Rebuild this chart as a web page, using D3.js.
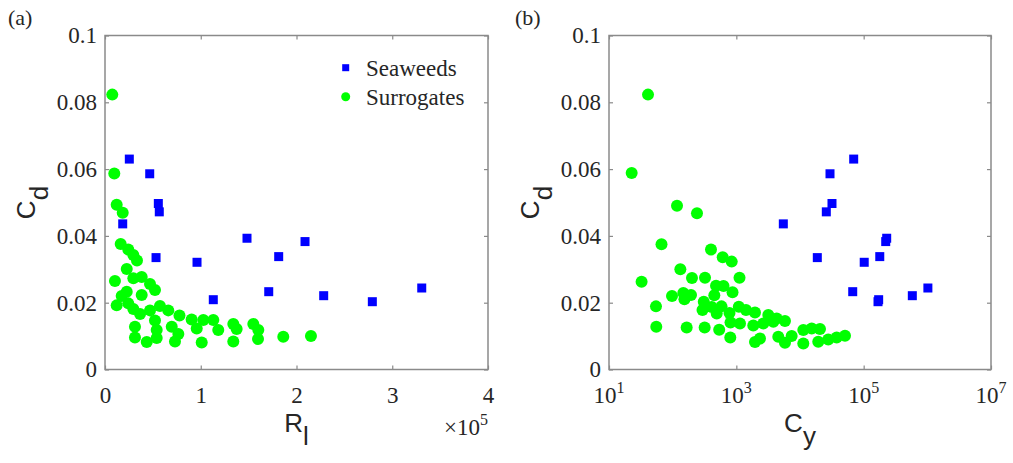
<!DOCTYPE html>
<html>
<head>
<meta charset="utf-8">
<script src="https://cdn.jsdelivr.net/npm/d3@7"></script>
<style>
  body { margin: 0; background: #fff; }
</style>
</head>
<body>
<svg id="fig" width="1013" height="463"></svg>
<script>
// ---- Drag coefficient data ----
// Seaweed specimens: Cd with the matching Reynolds number Rl and Cauchy number Cy
const seaweedCd = [0.0630, 0.0586, 0.0497, 0.0472, 0.0436, 0.0393, 0.0383, 0.0335,
                   0.0338, 0.0321, 0.0233, 0.0209, 0.0203, 0.0221, 0.0244];
const seaweedRl = [25400, 46700, 55700, 56700, 18500, 148300, 208900, 53300,
                   181400, 96100, 171000, 113100, 279200, 228400, 330800];
const seaweedCy = [69700, 29600, 31800, 25900, 5470, 230000, 222000, 18700,
                   179000, 102000, 67300, 172000, 168000, 581000, 1020000];

// Surrogate models, panel (a): Rl vs Cd
const surrogateRl = [7600, 9700, 12200, 18500, 16400, 24300, 29600, 33400, 22700, 10400,
                     29600, 38300, 47000, 52200, 22700, 17400, 38300, 12200, 24300, 29600,
                     36600, 47000, 57400, 66100, 77800, 52200, 90500, 102700, 113100, 118300,
                     134000, 137500, 154900, 160100, 159800, 186200, 215100, 31300, 31300, 43600,
                     54000, 54000, 69700, 73100, 76600, 95800, 101000, 134000];
const surrogateCdRl = [0.0823, 0.0587, 0.0493, 0.0469, 0.0376, 0.0359, 0.0343, 0.0326, 0.0301, 0.0265,
                       0.0273, 0.0277, 0.0256, 0.0238, 0.0233, 0.0220, 0.0223, 0.0192, 0.0198, 0.0181,
                       0.0166, 0.0177, 0.0190, 0.0177, 0.0162, 0.0147, 0.0150, 0.0148, 0.0148, 0.0118,
                       0.0136, 0.0121, 0.0136, 0.0118, 0.0091, 0.0098, 0.0100, 0.0128, 0.0096, 0.0082,
                       0.0094, 0.0118, 0.0128, 0.0084, 0.0106, 0.0123, 0.0081, 0.0084];

// Surrogate models, panel (b): Cy vs Cd
const surrogateCy = [41, 22.7, 117, 241, 66.8, 32.5, 132, 400, 611, 846,
                     1122, 201, 322, 480, 629, 871, 451, 97.6, 147, 153,
                     194, 54.7, 55.3, 166, 318, 538, 804, 308, 294, 410,
                     585, 781, 492, 1093, 1419, 1963, 3177, 4305, 5808, 810,
                     1141, 1846, 2650, 3808, 1963, 2353, 4560, 5808, 7396, 11270,
                     11270, 15270, 20600, 19360, 27800, 37670, 50900];
const surrogateCdCy = [0.0823, 0.0588, 0.0490, 0.0468, 0.0375, 0.0263, 0.0300, 0.0359, 0.0336, 0.0323,
                       0.0275, 0.0274, 0.0275, 0.0251, 0.0250, 0.0231, 0.0222, 0.0220, 0.0229, 0.0210,
                       0.0223, 0.0189, 0.0128, 0.0126, 0.0126, 0.0119, 0.0096, 0.0203, 0.0178, 0.0187,
                       0.0189, 0.0169, 0.0168, 0.0188, 0.0178, 0.0171, 0.0163, 0.0153, 0.0145, 0.0141,
                       0.0138, 0.0132, 0.0138, 0.0143, 0.0082, 0.0093, 0.0098, 0.0080, 0.0100, 0.0078,
                       0.0118, 0.0123, 0.0121, 0.0083, 0.0090, 0.0096, 0.0101];

// Axis ticks
const cdTicks = [0, 0.02, 0.04, 0.06, 0.08, 0.1];
const rlTicks = [0, 1e5, 2e5, 3e5, 4e5];
const cyTicks = [1e1, 1e3, 1e5, 1e7];
const cyExponents = ["1", "3", "5", "7"];
const legendLabels = ["Seaweeds", "Surrogates"];

const BLUE = "#0000ff", GREEN = "#00ff00";
const AXIS = "#8a8a8a", INK = "#262626";
const SERIF = '"Liberation Serif"';
const SANS = '"Liberation Sans"';

const svg = d3.select("#fig");
const plotTop = 35.5, plotBottom = 369.5;

// Apply serif styling to a text selection
const serifText = (sel, size) => sel.style("font-family", SERIF).style("font-size", size + "px").style("fill", INK);

function panel(opts) {
  const g = svg.append("g");
  const x = opts.x, y = d3.scaleLinear().domain([0, 0.1]).range([plotBottom, plotTop]);
  const [x0, x1] = x.range();

  // Tick marks on all four sides, pointing inward
  const mk = (axis, tr) => g.append("g").attr("transform", tr).call(axis)
      .call(s => s.select(".domain").remove())
      .call(s => s.selectAll(".tick line").attr("stroke", AXIS).attr("stroke-width", 1.2));

  const yl = mk(d3.axisLeft(y).tickValues(cdTicks).tickSizeInner(-4).tickSizeOuter(0)
      .tickPadding(8).tickFormat(d => String(+d.toFixed(2))), `translate(${x0},0)`);
  serifText(yl.selectAll("text"), 23);
  mk(d3.axisRight(y).tickValues(cdTicks).tickSizeInner(-4).tickSizeOuter(0).tickFormat(""),
     `translate(${x1},0)`);

  const xb = mk(d3.axisBottom(x).tickValues(opts.ticks).tickSizeInner(-4).tickSizeOuter(0)
      .tickPadding(17).tickFormat(opts.fmt), `translate(0,${plotBottom})`);
  serifText(xb.selectAll("text"), 23);
  mk(d3.axisTop(x).tickValues(opts.ticks).tickSizeInner(-4).tickSizeOuter(0).tickFormat(""),
     `translate(0,${plotTop})`);

  // Frame
  g.append("rect").attr("x", x0).attr("y", plotTop).attr("width", x1 - x0)
    .attr("height", plotBottom - plotTop)
    .attr("fill", "none").attr("stroke", AXIS).attr("stroke-width", 1.5);

  // Seaweeds (squares), then surrogates (circles) on top
  const s = 9;
  g.append("g").selectAll("rect").data(opts.sea).join("rect")
    .attr("x", d => x(d[0]) - s / 2).attr("y", d => y(d[1]) - s / 2)
    .attr("width", s).attr("height", s).attr("fill", BLUE);
  g.append("g").selectAll("circle").data(opts.sur).join("circle")
    .attr("cx", d => x(d[0])).attr("cy", d => y(d[1])).attr("r", 6).attr("fill", GREEN);

  // Y label C_d
  const yt = g.append("text")
    .attr("transform", `translate(${x0 - 70},${(plotTop + plotBottom) / 2}) rotate(-90)`)
    .attr("text-anchor", "middle")
    .style("font-family", SANS).style("font-size", "26px").style("fill", INK);
  yt.append("tspan").text("C");
  yt.append("tspan").attr("dy", 13).text("d");

  // X label
  const xt = g.append("text").attr("x", (x0 + x1) / 2).attr("y", 432)
    .attr("text-anchor", "middle")
    .style("font-family", SANS).style("font-size", "26px").style("fill", INK);
  xt.append("tspan").text(opts.label[0]);
  xt.append("tspan").attr("dy", 13).text(opts.label[1]);

  // Panel tag
  serifText(g.append("text").attr("x", opts.tagX).attr("y", 25).text(opts.tag), 22);
  return { g, x, y };
}

// Panel (a): Cd versus Rl
const xa = d3.scaleLinear().domain([0, 4e5]).range([105, 488]);
const pa = panel({
  x: xa, ticks: rlTicks, fmt: d => d / 1e5, label: ["R", "l"], tag: "(a)", tagX: 8,
  sea: d3.zip(seaweedRl, seaweedCd), sur: d3.zip(surrogateRl, surrogateCdRl)
});
// Exponent multiplier of the linear axis
const mult = serifText(pa.g.append("text").attr("x", 488).attr("y", 435).attr("text-anchor", "end"), 23);
mult.append("tspan").text("\u00d710");
mult.append("tspan").attr("dy", -10).style("font-size", "16px").text("5");

// Legend
const leg = pa.g.append("g");
leg.append("rect").attr("x", 345.7 - 3.5).attr("y", 67.7 - 3.5).attr("width", 7).attr("height", 7).attr("fill", BLUE);
leg.append("circle").attr("cx", 345.7).attr("cy", 96.7).attr("r", 4.5).attr("fill", GREEN);
serifText(leg.selectAll("text.lg").data(legendLabels).join("text").attr("class", "lg")
  .attr("x", 366).attr("y", (d, i) => 76 + i * 29).text(d => d), 23);

// Panel (b): Cd versus Cy (log axis)
const xbScale = d3.scaleLog().domain([1e1, 1e7]).range([609, 991]);
const pb = panel({
  x: xbScale, ticks: cyTicks, fmt: () => "", label: ["C", "y"], tag: "(b)", tagX: 515,
  sea: d3.zip(seaweedCy, seaweedCd), sur: d3.zip(surrogateCy, surrogateCdCy)
});
// Power-of-ten tick labels
const pl = serifText(pb.g.append("g").selectAll("text.pw").data(d3.zip(cyTicks, cyExponents)).join("text")
  .attr("class", "pw").attr("x", d => xbScale(d[0])).attr("y", 403)
  .attr("text-anchor", "middle"), 23);
pl.append("tspan").text("10");
pl.append("tspan").attr("dy", -10).style("font-size", "16px").text(d => d[1]);
</script>
</body>
</html>
